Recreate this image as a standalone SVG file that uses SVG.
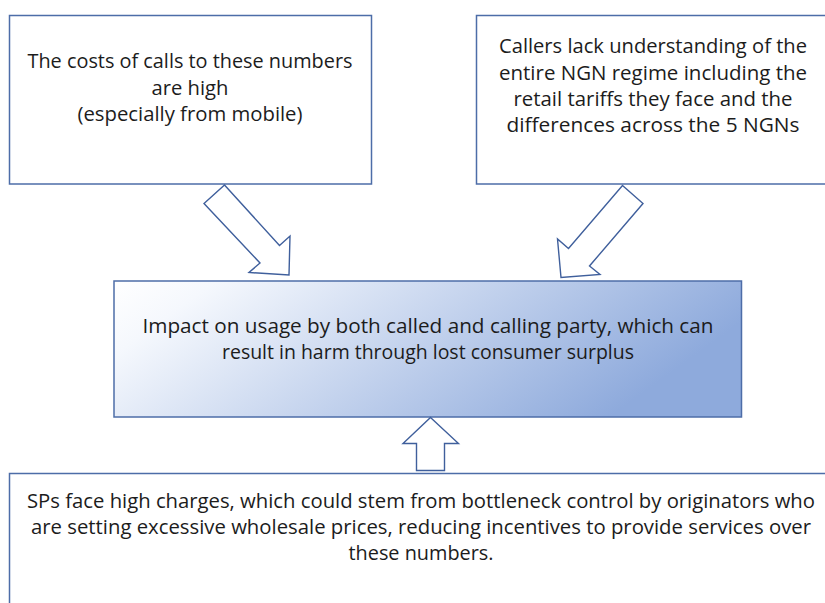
<svg xmlns="http://www.w3.org/2000/svg" width="825" height="603" viewBox="0 0 825 603">
<style>
.box{fill:#ffffff;stroke:#4d6da8;stroke-width:1.5}
.arrow{fill:#ffffff;stroke:#3f5f9c;stroke-width:1.4;stroke-linejoin:miter}
text{font-family:"Open Sans","Noto Sans","Liberation Sans",sans-serif;font-size:20px;fill:#1c1c1c;text-anchor:middle}
</style>
<defs>
<linearGradient id="g" x1="0" y1="0" x2="1" y2="0.3">
<stop offset="0" stop-color="#ffffff"/>
<stop offset="0.15" stop-color="#f5f8fd"/>
<stop offset="1" stop-color="#8eaadc"/>
</linearGradient>
</defs>
<rect width="825" height="603" fill="#ffffff"/>
<g id="box-costs">
<rect class="box" x="9.5" y="15.5" width="362" height="168.5"/>
<text x="190" y="68" textLength="325" lengthAdjust="spacingAndGlyphs">The costs of calls to these numbers</text>
<text x="190" y="95" textLength="77" lengthAdjust="spacingAndGlyphs">are high</text>
<text x="190" y="121" textLength="225" lengthAdjust="spacingAndGlyphs">(especially from mobile)</text>
</g>
<g id="box-callers">
<rect class="box" x="476.5" y="15.5" width="360" height="168.5"/>
<text x="653" y="53" textLength="308" lengthAdjust="spacingAndGlyphs">Callers lack understanding of the</text>
<text x="653" y="80" textLength="308" lengthAdjust="spacingAndGlyphs">entire NGN regime including the</text>
<text x="653" y="106" textLength="279" lengthAdjust="spacingAndGlyphs">retail tariffs they face and the</text>
<text x="653" y="132" textLength="293" lengthAdjust="spacingAndGlyphs">differences across the 5 NGNs</text>
</g>
<g id="box-impact">
<rect x="114" y="281" width="627.5" height="136" fill="url(#g)" stroke="#4d6da8" stroke-width="1.5"/>
<text x="428" y="333" textLength="571" lengthAdjust="spacingAndGlyphs">Impact on usage by both called and calling party, which can</text>
<text x="428" y="359" textLength="412" lengthAdjust="spacingAndGlyphs">result in harm through lost consumer surplus</text>
</g>
<g id="box-sps">
<rect class="box" x="9.5" y="473.5" width="825" height="140"/>
<text x="421" y="508" textLength="788" lengthAdjust="spacingAndGlyphs">SPs face high charges, which could stem from bottleneck control by originators who</text>
<text x="421" y="534" textLength="780" lengthAdjust="spacingAndGlyphs">are setting excessive wholesale prices, reducing incentives to provide services over</text>
<text x="421" y="560" textLength="145" lengthAdjust="spacingAndGlyphs">these numbers.</text>
</g>
<g id="connectors">
<polygon class="arrow" points="224.5,185 279.5,245.5 290,236 289,275 249,272.5 260,263 204,203.5"/>
<polygon class="arrow" points="622.5,185.5 643,203.5 589.5,266 600,274.5 561,277.5 557.5,239 568.5,248.5"/>
<polygon class="arrow" points="430.5,417.5 458.5,443.5 444.5,443.5 444.5,470.5 416.5,470.5 416.5,443.5 403,443.5"/>
</g>
</svg>
